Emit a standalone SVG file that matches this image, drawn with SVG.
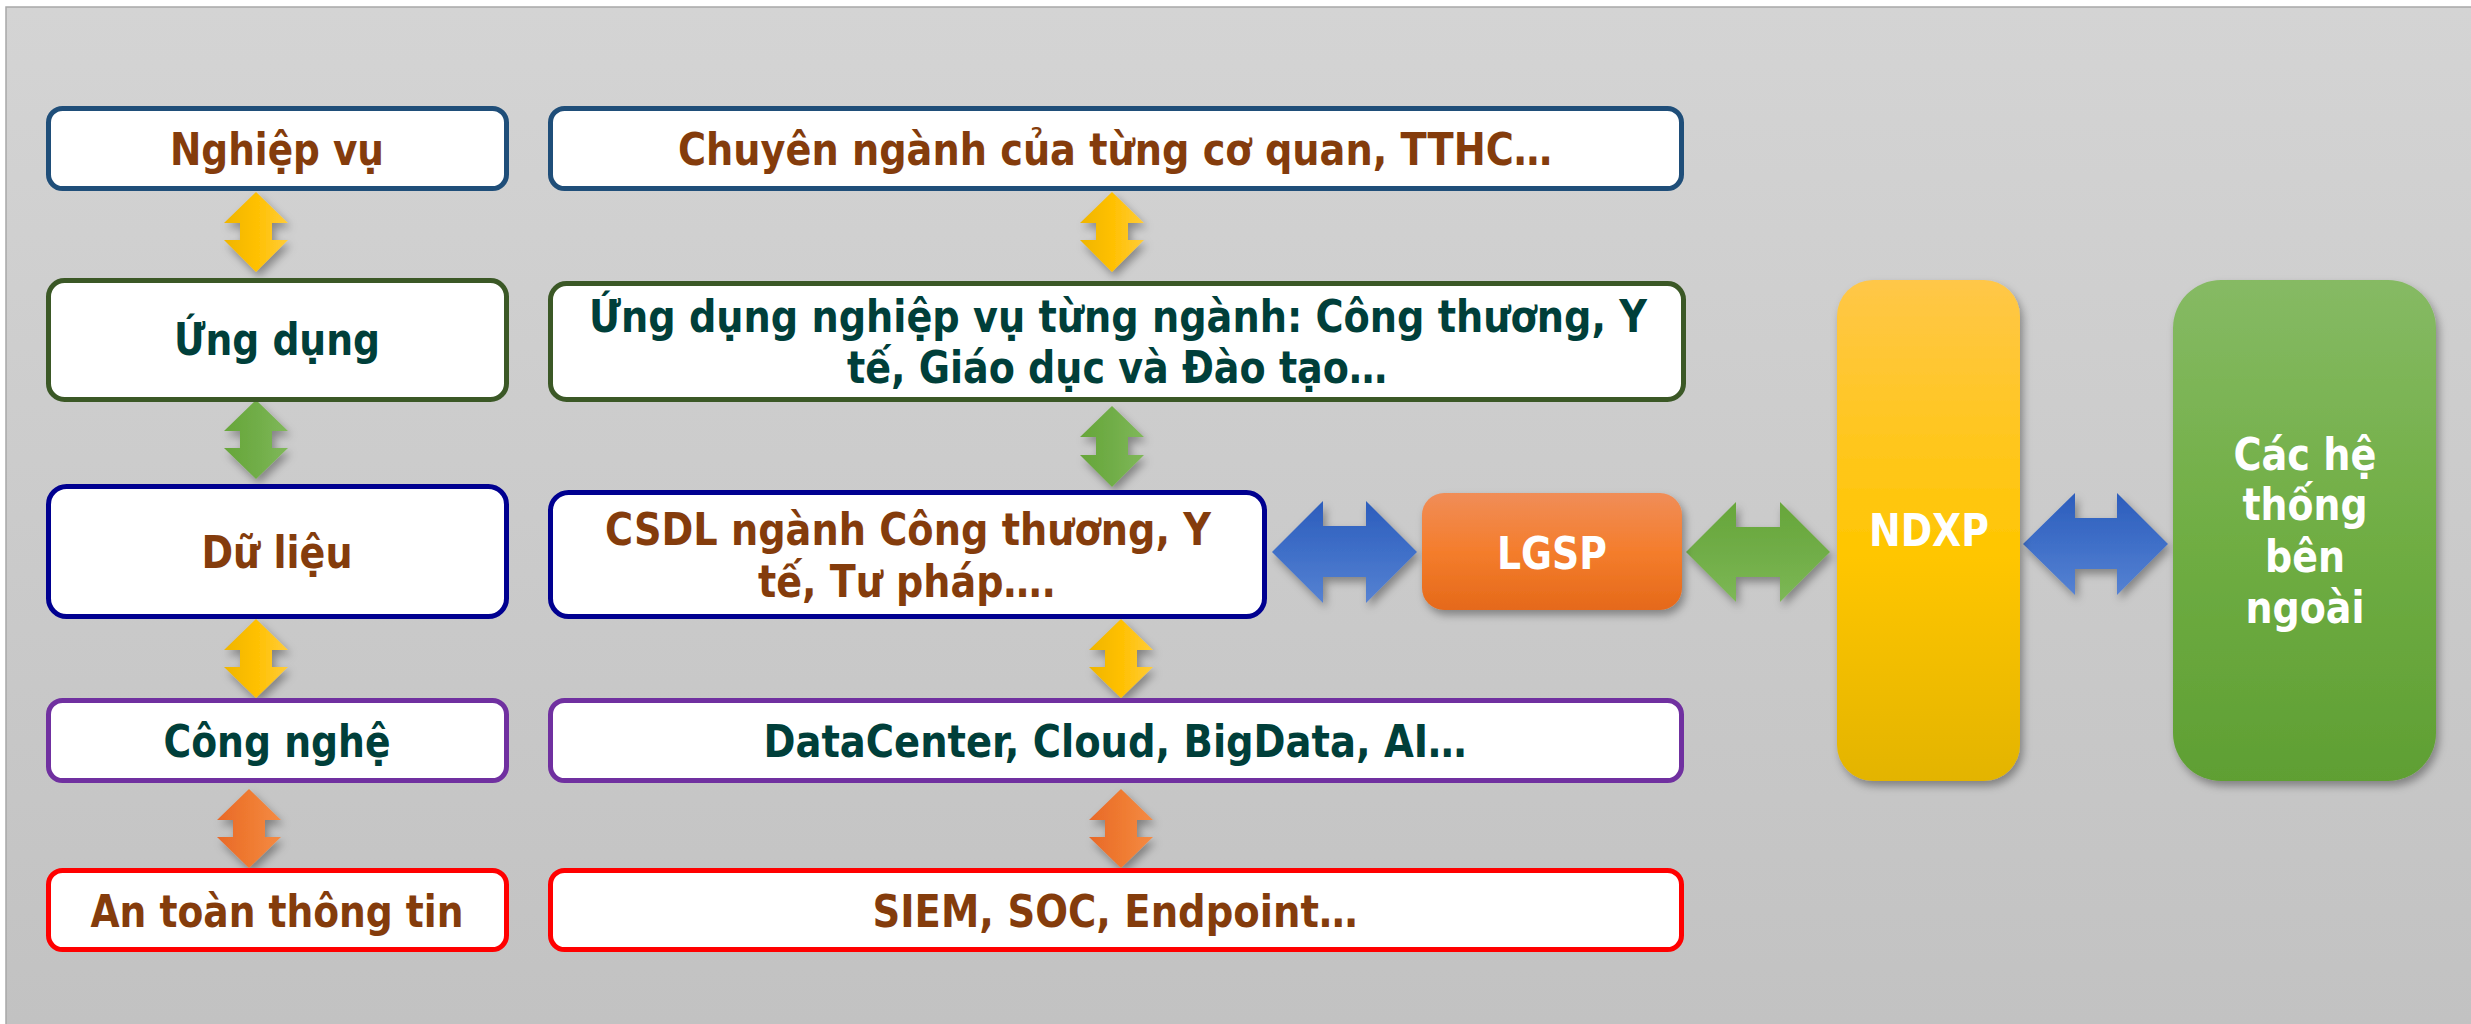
<svg xmlns="http://www.w3.org/2000/svg" width="2471" height="1024" viewBox="0 0 2471 1024">
<style>
.box{fill:#ffffff;stroke-width:5}
.t{font-family:'DejaVu Sans Condensed','DejaVu Sans',sans-serif;font-weight:bold;font-size:44px;text-anchor:middle}
.br{fill:#843c0c}
.tl{fill:#003f3a}
.w{fill:#ffffff}
</style>
<defs>
<linearGradient id="bg" x1="0" y1="0" x2="0" y2="1"><stop offset="0" stop-color="#d4d4d4"/><stop offset="1" stop-color="#c2c2c2"/></linearGradient>
<linearGradient id="gY" x1="0" y1="0" x2="1" y2="0"><stop offset="0" stop-color="#efb500"/><stop offset="0.5" stop-color="#ffc000"/><stop offset="1" stop-color="#ffcc3a"/></linearGradient>
<linearGradient id="gG" x1="0" y1="0" x2="1" y2="0"><stop offset="0" stop-color="#67a63a"/><stop offset="0.5" stop-color="#70ad47"/><stop offset="1" stop-color="#80b85a"/></linearGradient>
<linearGradient id="gO" x1="0" y1="0" x2="1" y2="0"><stop offset="0" stop-color="#e8692a"/><stop offset="0.5" stop-color="#ef7a30"/><stop offset="1" stop-color="#f48b45"/></linearGradient>
<linearGradient id="gB" x1="0" y1="0" x2="0" y2="1"><stop offset="0" stop-color="#2c5dbc"/><stop offset="0.5" stop-color="#3f6fc8"/><stop offset="1" stop-color="#5682d2"/></linearGradient>
<linearGradient id="gGh" x1="0" y1="0" x2="0" y2="1"><stop offset="0" stop-color="#67a63a"/><stop offset="0.5" stop-color="#70ad47"/><stop offset="1" stop-color="#7db856"/></linearGradient>
<linearGradient id="gL" x1="0" y1="0" x2="0" y2="1"><stop offset="0" stop-color="#f08d58"/><stop offset="0.5" stop-color="#f47d2c"/><stop offset="1" stop-color="#e5691a"/></linearGradient>
<linearGradient id="gN" x1="0" y1="0" x2="0" y2="1"><stop offset="0" stop-color="#ffc748"/><stop offset="0.55" stop-color="#ffc600"/><stop offset="1" stop-color="#e3b400"/></linearGradient>
<linearGradient id="gE" x1="0" y1="0" x2="0" y2="1"><stop offset="0" stop-color="#86ba64"/><stop offset="0.5" stop-color="#70ae44"/><stop offset="1" stop-color="#5f9f33"/></linearGradient>
<filter id="sh" x="-20%" y="-20%" width="140%" height="140%"><feDropShadow dx="3" dy="5" stdDeviation="4" flood-color="#000" flood-opacity="0.35"/></filter>
</defs>

<rect x="0" y="0" width="2471" height="1024" fill="#ffffff"/>
<rect x="6" y="7" width="2465" height="1017" fill="url(#bg)"/>
<path d="M6,1024 L6,7 L2471,7" fill="none" stroke="#a8a8a8" stroke-width="1.5"/>

<g id="connectors">
<path filter="url(#sh)" fill="url(#gY)" d="M256,192 L288,223 L272,223 L272,240 L288,240 L256,272 L224,240 L240,240 L240,223 L224,223 Z"/>
<path filter="url(#sh)" fill="url(#gG)" d="M256,400 L288,431 L272,431 L272,448 L288,448 L256,479 L224,448 L240,448 L240,431 L224,431 Z"/>
<path filter="url(#sh)" fill="url(#gY)" d="M256,619 L288,650 L272,650 L272,667 L288,667 L256,698 L224,667 L240,667 L240,650 L224,650 Z"/>
<path filter="url(#sh)" fill="url(#gO)" d="M249,789 L281,820 L265,820 L265,837 L281,837 L249,868 L217,837 L233,837 L233,820 L217,820 Z"/>
<path filter="url(#sh)" fill="url(#gY)" d="M1112,192 L1144,223 L1128,223 L1128,240 L1144,240 L1112,272 L1080,240 L1096,240 L1096,223 L1080,223 Z"/>
<path filter="url(#sh)" fill="url(#gG)" d="M1112,406 L1144,437 L1128,437 L1128,455 L1144,455 L1112,487 L1080,455 L1096,455 L1096,437 L1080,437 Z"/>
<path filter="url(#sh)" fill="url(#gY)" d="M1121,619 L1153,650 L1137,650 L1137,667 L1153,667 L1121,698 L1089,667 L1105,667 L1105,650 L1089,650 Z"/>
<path filter="url(#sh)" fill="url(#gO)" d="M1121,789 L1153,820 L1137,820 L1137,837 L1153,837 L1121,868 L1089,837 L1105,837 L1105,820 L1089,820 Z"/>
<path filter="url(#sh)" fill="url(#gB)" d="M1272,552 L1323,501 L1323,526 L1366,526 L1366,501 L1417,552 L1366,603 L1366,577 L1323,577 L1323,603 Z"/>
<path filter="url(#sh)" fill="url(#gGh)" d="M1686,552 L1736,502 L1736,527 L1780,527 L1780,502 L1830,552 L1780,602 L1780,577 L1736,577 L1736,602 Z"/>
<path filter="url(#sh)" fill="url(#gB)" d="M2023,544 L2075,493 L2075,518 L2117,518 L2117,493 L2168,544 L2117,595 L2117,569 L2075,569 L2075,595 Z"/>
</g>

<g id="nghiep-vu">
<rect class="box" x="48.5" y="108.5" width="458" height="80" rx="14" stroke="#1f4e79"/>
<text class="t br" x="277" y="165" textLength="214" lengthAdjust="spacingAndGlyphs">Nghiệp vụ</text>
</g>
<g id="chuyen-nganh">
<rect class="box" x="550.5" y="108.5" width="1131" height="80" rx="14" stroke="#1f4e79"/>
<text class="t br" x="1115" y="165" textLength="874" lengthAdjust="spacingAndGlyphs">Chuyên ngành của từng cơ quan, TTHC…</text>
</g>

<g id="ung-dung">
<rect class="box" x="48.5" y="280.5" width="458" height="119" rx="16" stroke="#3b5826"/>
<text class="t tl" x="277" y="355" textLength="206" lengthAdjust="spacingAndGlyphs">Ứng dụng</text>
</g>
<g id="ung-dung-nganh">
<rect class="box" x="550.5" y="283.5" width="1133" height="116" rx="16" stroke="#3b5826"/>
<text class="t tl" x="1118" y="332" textLength="1058" lengthAdjust="spacingAndGlyphs">Ứng dụng nghiệp vụ từng ngành: Công thương, Y</text>
<text class="t tl" x="1117" y="383" textLength="540" lengthAdjust="spacingAndGlyphs">tế, Giáo dục và Đào tạo…</text>
</g>

<g id="du-lieu">
<rect class="box" x="48.5" y="486.5" width="458" height="130" rx="18" stroke="#000090"/>
<text class="t br" x="277" y="568" textLength="151" lengthAdjust="spacingAndGlyphs">Dữ liệu</text>
</g>
<g id="csdl">
<rect class="box" x="550.5" y="492.5" width="714" height="124" rx="18" stroke="#000090"/>
<text class="t br" x="908" y="545" textLength="606" lengthAdjust="spacingAndGlyphs">CSDL ngành Công thương, Y</text>
<text class="t br" x="907" y="597" textLength="298" lengthAdjust="spacingAndGlyphs">tế, Tư pháp….</text>
</g>

<g id="cong-nghe">
<rect class="box" x="48.5" y="700.5" width="458" height="80" rx="14" stroke="#7030a0"/>
<text class="t tl" x="277" y="757" textLength="227" lengthAdjust="spacingAndGlyphs">Công nghệ</text>
</g>
<g id="datacenter">
<rect class="box" x="550.5" y="700.5" width="1131" height="80" rx="14" stroke="#7030a0"/>
<text class="t tl" x="1115" y="757" textLength="703" lengthAdjust="spacingAndGlyphs">DataCenter, Cloud, BigData, AI…</text>
</g>

<g id="an-toan">
<rect class="box" x="48.5" y="870.5" width="458" height="79" rx="14" stroke="#ff0000"/>
<text class="t br" x="277" y="927" textLength="373" lengthAdjust="spacingAndGlyphs">An toàn thông tin</text>
</g>
<g id="siem">
<rect class="box" x="550.5" y="870.5" width="1131" height="79" rx="14" stroke="#ff0000"/>
<text class="t br" x="1115" y="927" textLength="485" lengthAdjust="spacingAndGlyphs">SIEM, SOC, Endpoint…</text>
</g>

<g id="lgsp">
<rect x="1422" y="493" width="260" height="117" rx="22" fill="url(#gL)" filter="url(#sh)"/>
<text class="t w" x="1552" y="569" textLength="110" lengthAdjust="spacingAndGlyphs">LGSP</text>
</g>
<g id="ndxp">
<rect x="1837" y="280" width="183" height="501" rx="36" fill="url(#gN)" filter="url(#sh)"/>
<text class="t w" x="1929" y="546" textLength="120" lengthAdjust="spacingAndGlyphs">NDXP</text>
</g>
<g id="ben-ngoai">
<rect x="2173" y="280" width="263" height="501" rx="48" fill="url(#gE)" filter="url(#sh)"/>
<text class="t w" x="2305" y="470" textLength="143" lengthAdjust="spacingAndGlyphs">Các hệ</text>
<text class="t w" x="2305" y="520" textLength="125" lengthAdjust="spacingAndGlyphs">thống</text>
<text class="t w" x="2305" y="572" textLength="80" lengthAdjust="spacingAndGlyphs">bên</text>
<text class="t w" x="2305" y="623" textLength="119" lengthAdjust="spacingAndGlyphs">ngoài</text>
</g>
</svg>
